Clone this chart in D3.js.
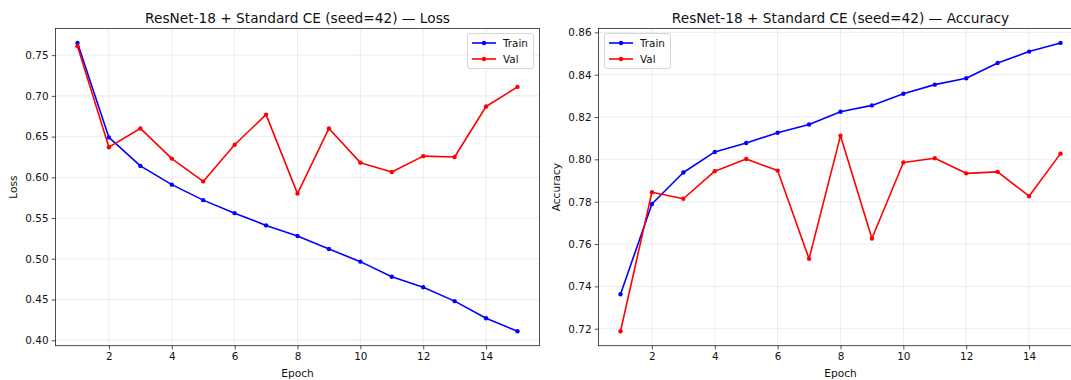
<!DOCTYPE html>
<html>
<head>
<meta charset="utf-8">
<script src="https://cdn.jsdelivr.net/npm/d3@7"></script>
<style>
  body { margin: 0; background: #fff; }
  svg { display: block; font-family: "DejaVu Sans", sans-serif; }
</style>
</head>
<body>
<script>
const epochs = [1, 2, 3, 4, 5, 6, 7, 8, 9, 10, 11, 12, 13, 14, 15];
const trainLoss = [0.765, 0.649, 0.614, 0.591, 0.572, 0.556, 0.541, 0.528, 0.512, 0.4965, 0.478, 0.465, 0.448, 0.427, 0.411];
const valLoss   = [0.761, 0.637, 0.660, 0.623, 0.595, 0.640, 0.677, 0.580, 0.660, 0.618, 0.6065, 0.626, 0.625, 0.687, 0.711];
const trainAcc  = [0.7363, 0.7789, 0.7938, 0.8035, 0.8077, 0.8126, 0.8165, 0.8225, 0.8255, 0.8310, 0.8353, 0.8383, 0.8455, 0.8509, 0.8550];
const valAcc    = [0.7188, 0.7845, 0.7814, 0.7944, 0.8002, 0.7947, 0.7530, 0.8112, 0.7626, 0.7985, 0.8005, 0.7934, 0.7941, 0.7826, 0.8027];
const epochTicks = [2, 4, 6, 8, 10, 12, 14];
const lossTicks = [0.40, 0.45, 0.50, 0.55, 0.60, 0.65, 0.70, 0.75];
const accTicks = [0.72, 0.74, 0.76, 0.78, 0.80, 0.82, 0.84, 0.86];
const seriesNames = ["Train", "Val"];
const seriesColors = ["#0000ff", "#ff0000"];

const W = 1071, H = 380;
const svg = d3.select("body").append("svg")
    .attr("width", W).attr("height", H);

// 5% margins like matplotlib
function padded(vals) {
  const [a, b] = d3.extent(vals);
  const p = (b - a) * 0.05;
  return [a - p, b + p];
}

function panel(box, title, ylabel, train, val, yTicks, fmt, legendSide) {
  const x = d3.scaleLinear().domain(padded(epochs)).range([box.x0, box.x1]);
  const y = d3.scaleLinear().domain(padded(train.concat(val))).range([box.y1, box.y0]);
  const g = svg.append("g");

  // grid
  g.append("g").selectAll("line").data(epochTicks).join("line")
      .attr("x1", d => x(d)).attr("x2", d => x(d))
      .attr("y1", box.y0).attr("y2", box.y1)
      .attr("stroke", "#b0b0b0").attr("stroke-opacity", 0.3).attr("stroke-width", 0.8);
  g.append("g").selectAll("line").data(yTicks).join("line")
      .attr("x1", box.x0).attr("x2", box.x1)
      .attr("y1", d => y(d)).attr("y2", d => y(d))
      .attr("stroke", "#b0b0b0").attr("stroke-opacity", 0.3).attr("stroke-width", 0.8);

  // axes
  const xa = g.append("g").attr("transform", `translate(0,${box.y1})`)
      .call(d3.axisBottom(x).tickValues(epochTicks).tickSize(3.7).tickPadding(3.3).tickFormat(d3.format("d")));
  const ya = g.append("g").attr("transform", `translate(${box.x0},0)`)
      .call(d3.axisLeft(y).tickValues(yTicks).tickSize(3.7).tickPadding(3.3).tickFormat(fmt));
  [xa, ya].forEach(a => {
    a.select(".domain").remove();
    a.selectAll("text").attr("font-size", 10.4).attr("fill", "#111").attr("font-family", "DejaVu Sans");
    a.selectAll("line").attr("stroke", "#222").attr("stroke-width", 0.8);
  });

  // lines + dots
  [train, val].forEach((s, i) => {
    const pts = epochs.map((e, j) => [e, s[j]]);
    g.append("path").datum(pts)
        .attr("fill", "none").attr("stroke", seriesColors[i]).attr("stroke-width", 1.6)
        .attr("stroke-linejoin", "round")
        .attr("d", d3.line().x(d => x(d[0])).y(d => y(d[1])));
    g.append("g").selectAll("circle").data(pts).join("circle")
        .attr("cx", d => x(d[0])).attr("cy", d => y(d[1])).attr("r", 2.2)
        .attr("fill", seriesColors[i]);
  });

  // frame
  g.append("rect").attr("x", box.x0).attr("y", box.y0)
      .attr("width", box.x1 - box.x0).attr("height", box.y1 - box.y0)
      .attr("fill", "none").attr("stroke", "#222").attr("stroke-width", 0.8);

  // title & labels
  g.append("text").attr("x", (box.x0 + box.x1) / 2).attr("y", 22.5)
      .attr("text-anchor", "middle").attr("font-size", 13.7).attr("fill", "#111").text(title);
  g.append("text").attr("x", x(8)).attr("y", 376.5)
      .attr("text-anchor", "middle").attr("font-size", 10.6).attr("fill", "#111").text("Epoch");
  g.append("text").attr("transform", `translate(${box.x0 - 38.5},${(box.y0 + box.y1) / 2}) rotate(-90)`)
      .attr("text-anchor", "middle").attr("font-size", 10.6).attr("fill", "#111").text(ylabel);

  // legend
  const lw = 66, lh = 35;
  const lx = legendSide === "right" ? box.legendRight - lw : box.x0 + 6;
  const ly = box.y0 + 5;
  const lg = g.append("g").attr("transform", `translate(${lx},${ly})`);
  lg.append("rect").attr("width", lw).attr("height", lh).attr("rx", 2.5)
      .attr("fill", "#fff").attr("fill-opacity", 0.8)
      .attr("stroke", "#cccccc").attr("stroke-width", 0.8);
  seriesNames.forEach((n, i) => {
    const yy = 9.5 + i * 16;
    lg.append("line").attr("x1", 4.5).attr("x2", 28.5).attr("y1", yy).attr("y2", yy)
        .attr("stroke", seriesColors[i]).attr("stroke-width", 1.6);
    lg.append("circle").attr("cx", 16.5).attr("cy", yy).attr("r", 2.2).attr("fill", seriesColors[i]);
    lg.append("text").attr("x", 35.5).attr("y", yy + 3.7).attr("font-size", 10.4)
        .attr("fill", "#111").text(n);
  });
}

panel({x0: 55.5, x1: 539.5, y0: 28.5, y1: 345.7, legendRight: 533.5},
  "ResNet-18 + Standard CE (seed=42) \u2014 Loss", "Loss",
  trainLoss, valLoss, lossTicks, d3.format(".2f"), "right");

panel({x0: 598.5, x1: 1082.5, y0: 28.5, y1: 345.7},
  "ResNet-18 + Standard CE (seed=42) \u2014 Accuracy", "Accuracy",
  trainAcc, valAcc, accTicks, d3.format(".2f"), "left");
</script>
</body>
</html>
